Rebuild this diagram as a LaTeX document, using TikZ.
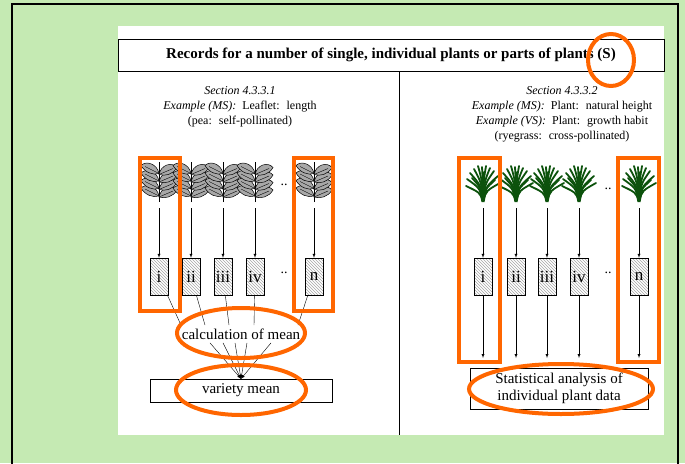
\documentclass[tikz,border=0pt]{standalone}
\usepackage{fontspec}
\setmainfont{Liberation Serif}
\usetikzlibrary{patterns}
\definecolor{bggreen}{RGB}{197,234,179}
\definecolor{hlorange}{RGB}{255,102,0}
\definecolor{grass}{RGB}{12,82,12}
\definecolor{leafgrey}{RGB}{168,168,168}
\tikzset{
  leaf/.style={fill=leafgrey,draw=black,line width=.5pt},
  rec/.style={draw,minimum width=18pt,minimum height=37pt,inner sep=0pt,pattern=north west lines,pattern color=gray!70,font=\fontsize{17}{17}\selectfont},
  hl/.style={draw=hlorange,line width=4pt},
  pea/.pic={
    \draw[line width=.9pt] (0,0) -- (0,-40);
    \foreach \h in {6,13.5,21,28.5}{
      \draw[leaf] (0,-\h) .. controls (-2,-\h-10) and (-13,-\h-13) .. (-18,-\h-8) .. controls (-14,-\h-1) and (-6,-\h+2) .. cycle;
      \draw[line width=.4pt] (0,-\h) -- (-14,-\h-7);
      \draw[leaf] (0,-\h+1) .. controls (2,-\h-9) and (13,-\h-12) .. (18,-\h-6) .. controls (14,-\h+1) and (6,-\h+3) .. cycle;
      \draw[line width=.4pt] (0,-\h+1) -- (14,-\h-5);
    }
  },
  grasstuft/.pic={
    \fill[grass] (-1.5,0) -- (-4,-12) -- (4,-12) -- (1.5,0) -- cycle;
    \foreach \a/\b in {-17/-16,-16/-23,-13/-29,-9/-33,-5/-36,-1/-35,3/-36,7/-34,11/-31,15/-26,17/-19,12/-22,-11/-24,0/-30}{
      \draw[grass,line width=1.8pt,line cap=round] (0,-1) .. controls (\a*0.2,\b*0.6) .. (\a,\b);
    }
  }
}
\begin{document}
\begin{tikzpicture}[x=1pt,y=-1pt,>=latex]
  \useasboundingbox (0,0) rectangle (685,463);
  \fill[bggreen] (0,0) rectangle (685,463);
  \draw[line width=2pt] (12,466) -- (12,4) -- (678,4) -- (678,466);
  \fill[white] (118,26) rectangle (664,435);
  \node[draw,minimum width=546pt,minimum height=32pt,font=\bfseries\fontsize{15}{18}\selectfont] (title) at (391,55) {Records for a number of single, individual plants or parts of plants (S)};
  \draw (399,71) -- (399,435);
  \node[anchor=north,align=center,font=\fontsize{12}{15}\selectfont] (secL) at (240,83) {\textit{Section 4.3.3.1}\\ \textit{Example (MS):}~ Leaflet:~ length\\ (pea:~ self-pollinated)};
  \node[anchor=north,align=center,font=\fontsize{12}{15}\selectfont] (secR) at (562,83) {\textit{Section 4.3.3.2}\\ \textit{Example (MS):}~ Plant:~ natural height\\ \textit{Example (VS):}~ Plant:~ growth habit\\ (ryegrass:~ cross-pollinated)};
  \foreach \x/\t/\a/\b in {1/i/159/483, 2/ii/191/516, 3/iii/223/547, 4/iv/255/579, 5/n/314/639}{
    \pic at (\a,202) {pea};
    \pic at (\b,202) {grasstuft};
    \coordinate (LP\x) at (\a,208);
    \coordinate (RP\x) at (\b,208);
    \coordinate (RS\x) at (\b,358);
    \node[rec] (L\x) at (\a,276.5) {\t};
    \node[rec] (R\x) at (\b,276.5) {\t};
    \draw[->] (LP\x) -- (L\x);
    \draw[->] (RP\x) -- (R\x);
    \draw[->] (R\x) -- (RS\x);
  }
  \node[font=\fontsize{14}{14}\selectfont] (dotsL1) at (284,185) {..};
  \node[font=\fontsize{14}{14}\selectfont] (dotsL2) at (284,273) {..};
  \node[font=\fontsize{14}{14}\selectfont] (dotsR1) at (608,189) {..};
  \node[font=\fontsize{14}{14}\selectfont] (dotsR2) at (608,273) {..};
  \node[font=\fontsize{15}{18}\selectfont] (calc) at (241,334) {calculation of mean};
  \node[draw,minimum width=182pt,minimum height=23pt,font=\fontsize{15}{18}\selectfont] (var) at (241,390.5) {variety mean};
  \node[draw,minimum width=178pt,minimum height=41pt,align=center,font=\fontsize{15}{17}\selectfont] (stat) at (559,388.5) {Statistical analysis of\\individual plant data};
  \foreach \x/\d in {1/-60,2/-36,3/-12,4/13,5/57}{
    \draw (L\x) -- ([xshift=\d pt]calc.north);
  }
  \foreach \d in {-31,-18,-6,6,30}{
    \draw[->] ([xshift=\d pt]calc.south) -- (var.north);
  }
  \draw[hl] (140,158) rectangle (180,311);
  \draw[hl] (294,158) rectangle (333,311);
  \draw[hl] (459,158) rectangle (500,362);
  \draw[hl] (618,158) rectangle (659,362);
  \draw[hl] (241,333) ellipse [x radius=64pt,y radius=25pt];
  \draw[hl] (241,390) ellipse [x radius=65pt,y radius=25pt];
  \draw[hl] (561,389) ellipse [x radius=92pt,y radius=25pt];
  \draw[hl] (611,60) ellipse [x radius=23pt,y radius=26pt];
\end{tikzpicture}
\end{document}
